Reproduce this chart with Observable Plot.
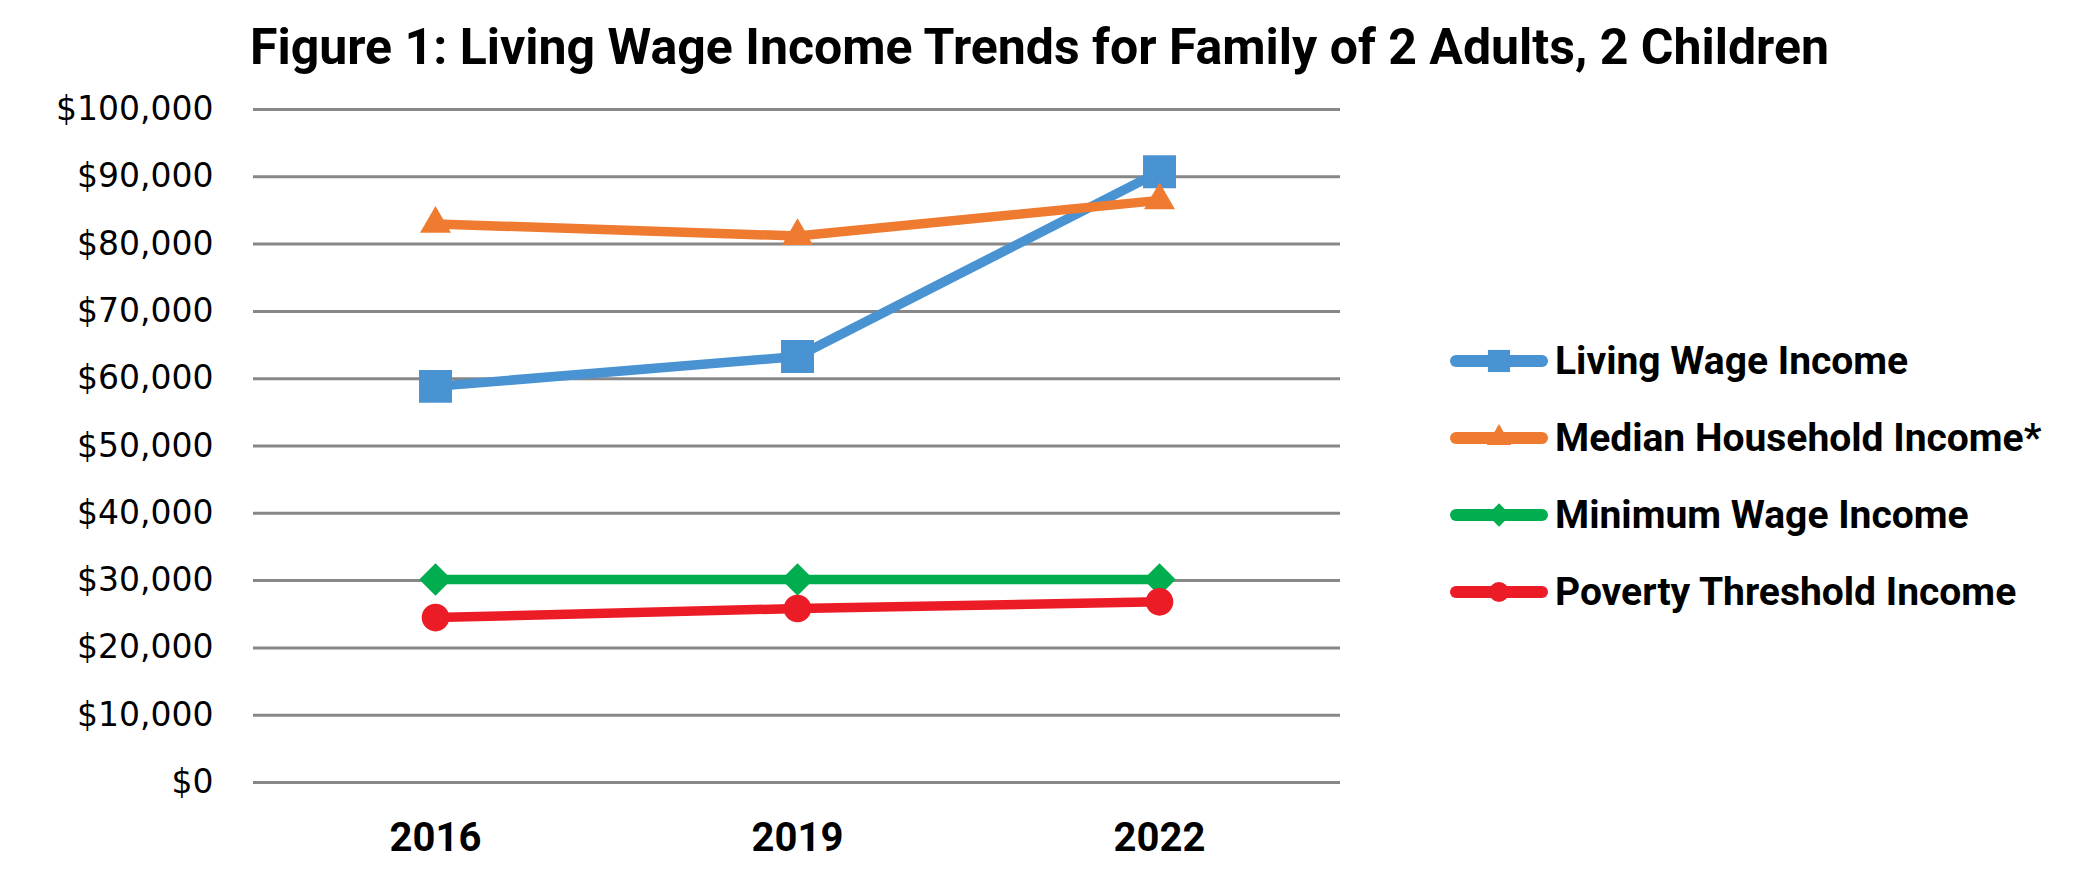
<!DOCTYPE html>
<html>
<head>
<meta charset="utf-8">
<script src="https://cdn.jsdelivr.net/npm/d3@7"></script>
<script src="https://cdn.jsdelivr.net/npm/@observablehq/plot@0.6"></script>
<style>
  body { margin: 0; background: #fff; }
  #wrap { position: relative; width: 2087px; height: 885px; overflow: hidden; background: #fff; }
  #title { position: absolute; left: 250px; top: 14px; white-space: nowrap;
    font-family: "Roboto", "Noto Sans", sans-serif; font-weight: bold; font-size: 50px; line-height: 66px; color: #000; }
  #chart { position: absolute; left: 0; top: 90px; }
  .lg { position: absolute; left: 1449px; height: 50px; display: flex; align-items: center; white-space: nowrap;
    font-family: "Roboto", "Noto Sans", sans-serif; font-weight: bold; font-size: 39px; color: #000; }
  .lg svg { display: block; margin-right: 6px; }
</style>
</head>
<body>
<div id="wrap">
  <div id="title">Figure 1: Living Wage Income Trends for Family of 2 Adults, 2 Children</div>
  <div id="chart"></div>
  <div id="legend"></div>
</div>
<script>
// ---- data ----
const years = ["2016", "2019", "2022"];
const seriesNames = ["Living Wage Income", "Median Household Income*", "Minimum Wage Income", "Poverty Threshold Income"];
const livingWage = [58860, 63300, 90740];
const medianHousehold = [83000, 81200, 86500];
const minimumWage = [30160, 30160, 30160];
const povertyThreshold = [24500, 25850, 26840];
const yTicks = [0, 10000, 20000, 30000, 40000, 50000, 60000, 70000, 80000, 90000, 100000];

// ---- styles ----
const colors = ["#4a93d2", "#ee7b30", "#00ad4f", "#ec1c27"];
const symbols = ["square", "triangle", "diamond2", "circle"];
const markerR = [18.6, 11.5, 14.6, 13.8];
const legendR = [12.5, 9, 10.5, 10];

const seriesValues = [livingWage, medianHousehold, minimumWage, povertyThreshold];
const rows = [];
seriesNames.forEach((s, i) => years.forEach((yr, j) => rows.push({series: s, year: yr, value: seriesValues[i][j]})));

const fmt = d3.format(",");
const marks = [
  Plot.gridY(yTicks, {stroke: "#878787", strokeWidth: 3, strokeOpacity: 1}),
  Plot.axisY({ticks: yTicks, tickFormat: d => "$" + fmt(d), tickSize: 0, tickPadding: 40,
    fontSize: 33, fontFamily: "DejaVu Sans", fill: "#000", label: null}),
  Plot.axisX({tickSize: 0, tickPadding: 40, fontSize: 40, fontWeight: "bold",
    fontFamily: "Roboto, sans-serif", fill: "#000", label: null})
];
seriesNames.forEach((s, i) => {
  const d = rows.filter(r => r.series === s);
  marks.push(Plot.line(d, {x: "year", y: "value", stroke: "series", strokeWidth: 9.5, strokeLinejoin: "round"}));
});
seriesNames.forEach((s, i) => {
  const d = rows.filter(r => r.series === s);
  marks.push(Plot.dot(d, {x: "year", y: "value", fill: "series", symbol: "series", r: markerR[i], stroke: "none"}));
});

const chart = Plot.plot({
  width: 2087,
  height: 795,
  marginTop: 19,
  marginBottom: 103,
  marginLeft: 253,
  marginRight: 747,
  x: {type: "point", domain: years, padding: 0.5},
  y: {domain: [0, 100000]},
  color: {domain: seriesNames, range: colors},
  symbol: {domain: seriesNames, range: symbols},
  style: {background: "#fff", overflow: "visible"},
  marks
});
document.getElementById("chart").appendChild(chart);

// ---- legend ----
const legendCenters = [361, 438, 515, 592];
const symMap = {square: d3.symbolSquare, triangle: d3.symbolTriangle, diamond2: d3.symbolDiamond2, circle: d3.symbolCircle};
const legend = document.getElementById("legend");
seriesNames.forEach((s, i) => {
  const row = document.createElement("div");
  row.className = "lg";
  row.style.top = (legendCenters[i] - 25) + "px";
  const svg = d3.create("svg").attr("width", 100).attr("height", 50);
  svg.append("line").attr("x1", 7).attr("x2", 93).attr("y1", 25).attr("y2", 25)
    .attr("stroke", colors[i]).attr("stroke-width", 12).attr("stroke-linecap", "round");
  svg.append("path").attr("transform", "translate(50,25)")
    .attr("d", d3.symbol(symMap[symbols[i]], Math.PI * legendR[i] * legendR[i])())
    .attr("fill", colors[i]);
  row.appendChild(svg.node());
  const t = document.createElement("span");
  t.textContent = s;
  row.appendChild(t);
  legend.appendChild(row);
});
</script>
</body>
</html>
